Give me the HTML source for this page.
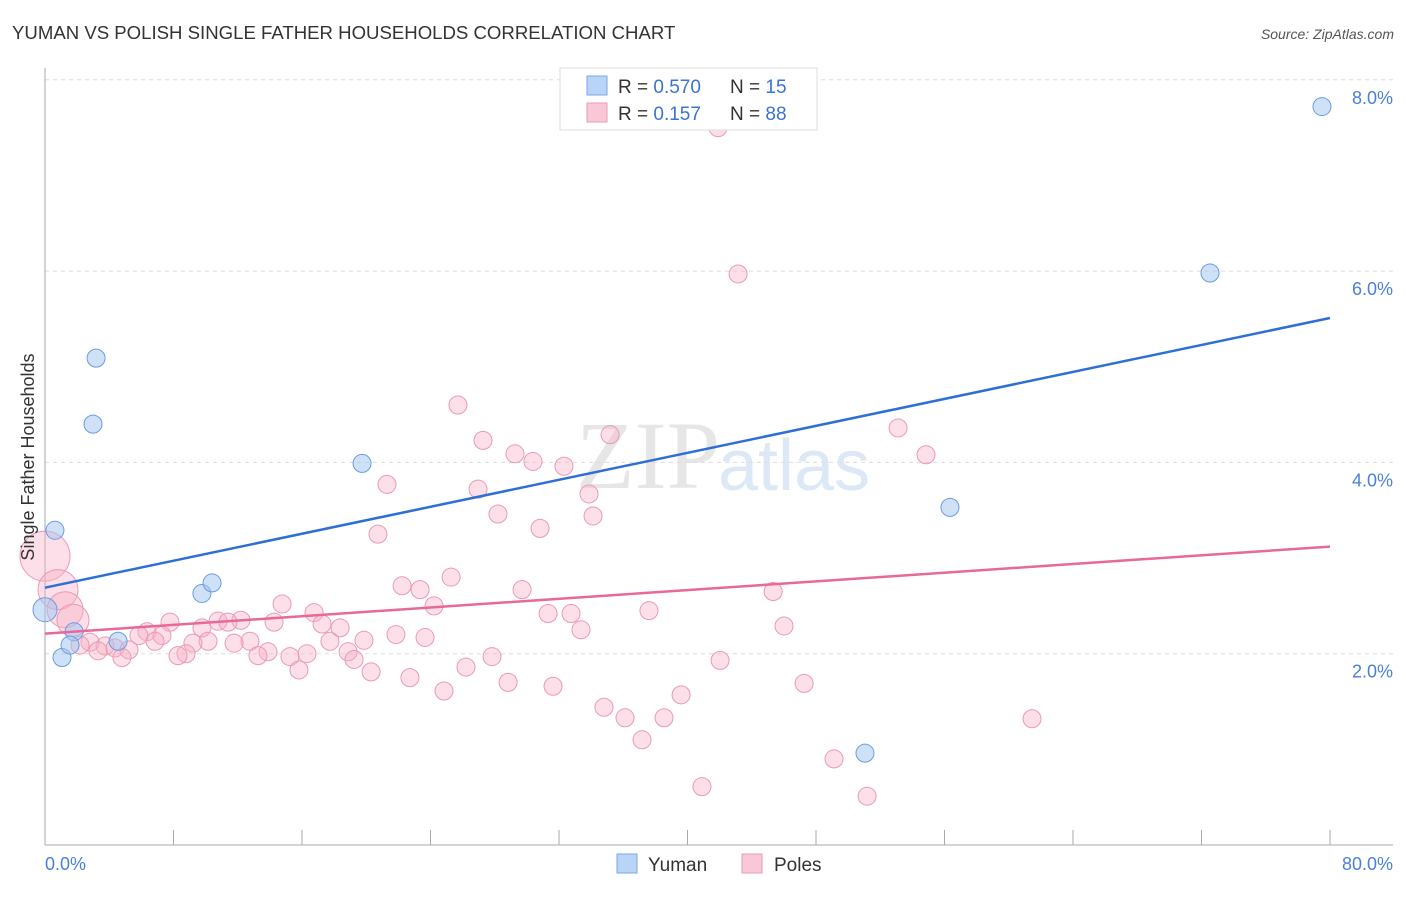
<!DOCTYPE html>
<html><head><meta charset="utf-8"><style>
body{margin:0;background:#fff;font-family:"Liberation Sans",sans-serif;}
</style></head><body>
<svg id="c" width="1406" height="892" viewBox="0 0 1406 892" xmlns="http://www.w3.org/2000/svg">
<text x="12" y="39" font-size="18.6" fill="#333">YUMAN VS POLISH SINGLE FATHER HOUSEHOLDS CORRELATION CHART</text>
<text x="1394" y="39" font-size="14" fill="#555" font-style="italic" text-anchor="end">Source: ZipAtlas.com</text>
<text x="720" y="488" font-size="96" fill="#e6e6e6" text-anchor="end" font-family="Liberation Serif">ZIP</text>
<text x="718" y="490" font-size="72" fill="#dde8f7">atlas</text>
<g id="grid"></g>
<g id="axes"></g>
<g id="pts"></g>
<g id="lines"></g>
<text transform="translate(34,457) rotate(-90)" font-size="18" fill="#333" text-anchor="middle">Single Father Households</text>
<g>
<rect x="560" y="68" width="257" height="62" fill="#fff" stroke="#ddd"/>
<rect x="587" y="76" width="20" height="19" fill="#b8d4f6" stroke="#7aa8e6"/>
<rect x="587" y="103" width="20" height="19" fill="#f9c8d7" stroke="#eb9ab4"/>
<text x="618" y="93" font-size="19" fill="#333">R = <tspan fill="#3a73d0">0.570</tspan></text>
<text x="730" y="93" font-size="19" fill="#333">N = <tspan fill="#3a73d0"> 15</tspan></text>
<text x="618" y="120" font-size="19" fill="#333">R = <tspan fill="#3a73d0"> 0.157</tspan></text>
<text x="730" y="120" font-size="19" fill="#333">N = <tspan fill="#3a73d0">88</tspan></text>
</g>
<g>
<rect x="617" y="854" width="20" height="19" fill="#b8d4f6" stroke="#7aa8e6"/>
<text x="648" y="871" font-size="19" fill="#333">Yuman</text>
<rect x="742" y="854" width="20" height="19" fill="#f9c8d7" stroke="#eb9ab4"/>
<text x="774" y="871" font-size="19" fill="#333">Poles</text>
</g>
</svg>
<script>
const yTicks=[2,4,6,8];
const yTickLabels=["2.0%","4.0%","6.0%","8.0%"];
const xTicks=[0,8,16,24,32,40,48,56,64,72,80];
const yumanX=[0.62,3.18,2.99,1.81,1.06,1.56,4.55,9.77,10.40,19.74,72.53,79.50,56.34,51.05,0];
const yumanY=[3.29,5.09,4.40,2.23,1.96,2.09,2.13,2.63,2.74,3.99,5.98,7.72,3.53,0.96,2.46];
const polesX=[41.90,43.15,25.71,27.27,35.18,53.11,54.85,29.26,30.38,32.31,21.29,26.96,33.87,28.20,34.12,30.82,20.73,25.28,22.23,23.35,29.70,45.33,24.22,14.76,31.32,32.75,37.60,16.75,7.78,10.77,12.20,14.26,11.39,17.25,18.37,46.01,33.37,6.35,7.28,9.77,21.85,23.66,19.86,17.74,12.76,10.15,9.21,11.77,6.85,5.85,3.74,2.80,2.18,3.30,4.36,5.23,13.88,18.87,16.31,8.78,8.28,13.26,15.25,19.24,27.83,4.79,42.03,26.21,15.81,20.30,22.72,28.83,47.26,31.63,24.84,39.60,34.80,36.11,38.54,61.45,37.17,49.12,40.90,51.18,0,0.81,1.25,1.74];
const polesY=[7.50,5.97,4.60,4.23,4.29,4.36,4.08,4.09,4.01,3.96,3.77,3.72,3.67,3.46,3.44,3.31,3.25,2.80,2.71,2.67,2.67,2.65,2.50,2.52,2.42,2.42,2.45,2.43,2.33,2.34,2.35,2.33,2.33,2.31,2.27,2.29,2.25,2.23,2.19,2.27,2.20,2.17,2.14,2.13,2.13,2.13,2.11,2.11,2.13,2.19,2.08,2.12,2.09,2.03,2.06,2.04,2.02,2.02,2.00,2.00,1.98,1.98,1.97,1.94,1.97,1.96,1.93,1.86,1.83,1.81,1.75,1.70,1.69,1.66,1.61,1.57,1.44,1.33,1.33,1.32,1.10,0.90,0.61,0.51,3.02,2.67,2.46,2.35];
const polesR=[9,9,9,9,9,9,9,9,9,9,9,9,9,9,9,9,9,9,9,9,9,9,9,9,9,9,9,9,9,9,9,9,9,9,9,9,9,9,9,9,9,9,9,9,9,9,9,9,9,9,9,9,9,9,9,9,9,9,9,9,9,9,9,9,9,9,9,9,9,9,9,9,9,9,9,9,9,9,9,9,9,9,9,9,25,20,18,16];
const yumanTrend=[2.69,5.51];
const polesTrend=[2.21,3.12];
const X=v=>45+v/80*1285, Y=v=>845-v*95.65;
const NS="http://www.w3.org/2000/svg";
function mk(p,t,a){const e=document.createElementNS(NS,t);for(const k in a)e.setAttribute(k,a[k]);document.getElementById(p).appendChild(e);return e;}
yTicks.forEach((t,i)=>{
 const l=mk('grid','line',{x1:45,x2:1393,y1:Y(t),y2:Y(t),stroke:'#ddd','stroke-dasharray':'4,4'});
 
 
 const tx=mk('grid','text',{x:1393,y:Y(t)+24,'font-size':18,fill:'#4a80d8','text-anchor':'end'});
 tx.textContent=yTickLabels[i];
 
 
});
const ax=mk('axes','line',{x1:45,x2:45,y1:68,y2:845,stroke:'#aaa'});


const bx=mk('axes','line',{x1:45,x2:1393,y1:845,y2:845,stroke:'#aaa'});


xTicks.forEach(t=>{const l=mk('axes','line',{x1:X(t),x2:X(t),y1:830,y2:845,stroke:'#aaa'});
 
 });
const xl=mk('axes','text',{x:45,y:870,'font-size':18,fill:'#4a80d8'});xl.textContent='0.0%';


const xr=mk('axes','text',{x:1393,y:870,'font-size':18,fill:'#4a80d8','text-anchor':'end'});xr.textContent='80.0%';


polesX.forEach((v,i)=>{const c=mk('pts','circle',{cx:X(v),cy:Y(polesY[i]),r:polesR[i],fill:'rgba(248,175,198,0.4)',stroke:'#eb9ab4','stroke-width':1});
 
 });
yumanX.forEach((v,i)=>{const c=mk('pts','circle',{cx:X(v),cy:Y(yumanY[i]),r:i==14?12:9,fill:'rgba(160,195,240,0.5)',stroke:'#6a9de0','stroke-width':1});
 
 });
const tb=mk('lines','line',{x1:X(0),x2:X(80),y1:Y(yumanTrend[0]),y2:Y(yumanTrend[1]),stroke:'#2e6fd6','stroke-width':2.5});


const tp=mk('lines','line',{x1:X(0),x2:X(80),y1:Y(polesTrend[0]),y2:Y(polesTrend[1]),stroke:'#e8689a','stroke-width':2.5});


</script>
</body></html>
